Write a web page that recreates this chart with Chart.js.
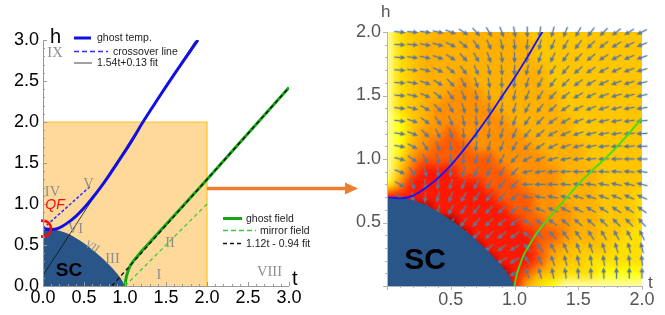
<!DOCTYPE html>
<html>
<head>
<meta charset="utf-8">
<script src="https://cdn.jsdelivr.net/npm/chart.js@4.4.1/dist/chart.umd.min.js"></script>
<style>
  html, body { margin: 0; padding: 0; background: #fff; width: 665px; height: 315px; overflow: hidden; }
  #left  { position: absolute; left: 0;     top: 0; z-index: 2; }
  #right { position: absolute; left: 330px; top: 0; z-index: 1; }
</style>
</head>
<body>
<canvas id="left" width="365" height="315"></canvas>
<canvas id="right" width="335" height="315"></canvas>
<script>
// ── data ─────────────────────────────────────────────────────────────────────

// superconducting dome boundary
const scT = [0, 0.1, 0.2, 0.3, 0.4, 0.5, 0.6, 0.7, 0.8, 0.9, 0.95, 1.0];
const scH = [0.7, 0.695, 0.675, 0.64, 0.585, 0.52, 0.445, 0.36, 0.265, 0.155, 0.09, 0];

// ghost temperature line
const ghostTempT = [0, 0.1, 0.2, 0.3, 0.4, 0.5, 0.6, 0.7, 0.8, 0.9, 1.0, 1.1, 1.2, 1.4, 1.6, 1.89];
const ghostTempH = [0.7, 0.69, 0.71, 0.77, 0.85, 0.95, 1.07, 1.2, 1.34, 1.49, 1.64, 1.8, 1.97, 2.28, 2.58, 3.0];

// crossover line and 1.54t+0.13 fit
const crossoverT = [0, 0.57];
const crossoverH = [0.7, 1.21];
const fitTempT = [0, 1.86];
const fitTempH = [0.13, 2.99];

// ghost field line (left panel / right panel), mirror field, 1.12t-0.94 fit
const ghostFieldT = [1.0, 1.01, 1.03, 1.06, 1.1, 1.15, 1.2, 1.3, 1.5, 2.0, 2.5, 3.0];
const ghostFieldH = [0, 0.08, 0.16, 0.24, 0.3, 0.36, 0.42, 0.53, 0.75, 1.3, 1.86, 2.42];
const ghostFieldRT = [1.0, 1.01, 1.04, 1.07, 1.11, 1.17, 1.24, 1.37, 1.5, 1.63, 1.75, 2.0, 2.05];
const ghostFieldRH = [0, 0.06, 0.16, 0.24, 0.31, 0.41, 0.5, 0.65, 0.8, 0.93, 1.04, 1.32, 1.38];
const mirrorT = [1, 2];
const mirrorH = [0, 1];
const fitFieldT = [0.84, 3.0];
const fitFieldH = [0, 2.42];

// zoomed window shown on the right
const zoomT = [0, 2, 2];
const zoomH = [2, 2, 0];

// quantum-fluctuation marker
const qfT = [0];
const qfH = [0.7];

// region labels (left panel)
const regionText = ['IX', 'IV', 'V', 'VI', 'III', 'II', 'I', 'VIII'];
const regionT = [0.146, 0.116, 0.555, 0.396, 0.848, 1.549, 1.415, 2.762];
const regionH = [2.84, 1.14, 1.244, 0.689, 0.323, 0.524, 0.134, 0.165];

// flow field: grid columns (t), rows (h, top to bottom), direction in degrees
const fieldT = [0.1, 0.2, 0.3, 0.4, 0.5, 0.6, 0.7, 0.8, 0.9, 1.0, 1.1, 1.2, 1.3, 1.4, 1.5, 1.6, 1.7, 1.8, 1.9, 2.0];
const fieldH = [2.0, 1.9, 1.8, 1.7, 1.6, 1.5, 1.4, 1.3, 1.2, 1.1, 1.0, 0.9, 0.8, 0.7, 0.6, 0.5, 0.4, 0.3, 0.2, 0.1];
const fieldAngle = [
  [-5, -5, -8, -12, -20, -33, -48, -60, -70, -80, -90, -97, -105, -112, -120, -128, -135, -142, -148, -153],
  [-3, -6, -10, -16, -26, -40, -55, -66, -76, -85, -95, -103, -112, -120, -128, -135, -142, -148, -153, -158],
  [-3, -7, -12, -20, -32, -47, -60, -71, -81, -89, -99, -108, -117, -125, -133, -140, -147, -152, -157, -161],
  [-4, -8, -15, -25, -40, -54, -66, -76, -85, -93, -103, -113, -122, -130, -138, -145, -151, -156, -160, -164],
  [-4, -10, -19, -31, -47, -61, -72, -81, -89, -97, -108, -118, -127, -135, -143, -150, -155, -159, -163, -166],
  [-5, -12, -24, -39, -55, -67, -77, -85, -93, -101, -113, -123, -132, -140, -148, -154, -159, -163, -166, -168],
  [-6, -15, -30, -47, -62, -73, -82, -89, -97, -105, -118, -128, -138, -146, -153, -158, -163, -166, -169, -171],
  [-7, -18, -37, -56, -69, -79, -87, -94, -101, -109, -123, -134, -144, -151, -157, -162, -166, -169, -172, -174],
  [-8, -22, -45, -64, -76, -85, -92, -99, -106, -114, -128, -140, -150, -156, -161, -166, -169, -172, -175, -177],
  [-10, -28, -55, -71, -82, -90, -97, -104, -111, -119, -134, -146, -155, -161, -166, -170, -173, -175, -177, -179],
  [-15, -35, -62, -77, -87, -95, -103, -110, -117, -135, -150, -156, -163, -168, -172, -175, -178, 180, 180, 180],
  [-20, -50, -72, -86, -96, -104, -112, -118, -124, -132, -165, -170, -175, -178, 179, 177, 176, 175, 174, 173],
  [-30, -65, -82, -95, -105, -112, -118, -124, -128, -135, -178, 180, 177, 175, 173, 171, 170, 168, 167, 166],
  [-40, -80, -95, -105, -112, -118, -124, -128, -132, -138, 170, 170, 168, 166, 164, 162, 160, 158, 157, 156],
  [-90, -100, -105, -112, -118, -124, -128, -132, -136, -140, 160, 158, 156, 154, 152, 150, 148, 147, 146, 145],
  [-110, -115, -120, -125, -128, -128, -132, -136, -140, -143, 150, 147, 144, 141, 139, 137, 135, 134, 133, 132],
  [-120, -125, -128, -130, -132, -134, -135, -138, -142, -145, 140, 136, 132, 128, 125, 122, 120, 118, 117, 116],
  [-125, -130, -132, -134, -136, -138, -140, -140, -145, -148, 130, 125, 120, 115, 112, 110, 108, 106, 105, 104],
  [-130, -132, -134, -136, -138, -140, -142, -145, -148, -150, 120, 115, 110, 106, 103, 100, 98, 97, 96, 95],
  [-130, -132, -134, -136, -138, -140, -142, -145, -148, -150, 110, 105, 100, 97, 95, 93, 92, 91, 90, 90],
];

// density background: rows h = 2.0 .. 0.0, columns t = 0.0 .. 2.0 (step 0.1), level 0-9
const heatRows = [
  '134455555554444444444',
  '134555555555444444444',
  '134555555555444444444',
  '134555555555544444444',
  '134555655555544444444',
  '134556665555554444444',
  '134566666555554444444',
  '124566666655555444444',
  '124667666665555444444',
  '125677766666555544444',
  '136777777666655544444',
  '147888777766665554444',
  '268888887776665554444',
  '888888888777665554443',
  '999988888877666554443',
  '999999888887766554443',
  '999999988888776554433',
  '999999998888765444333',
  '999999999888754433333',
  '999999999987543332222',
  '999999999985321111111',
];
const heatColors = ['#ffffff', '#ffffa8', '#ffff10', '#ffe000', '#ffc600', '#ffb000',
                    '#ff9000', '#ff5a00', '#ff1800', '#900000'];

// ── shared helpers ───────────────────────────────────────────────────────────

const FONT = "'Liberation Sans', Arial, sans-serif";
const SERIF = "'Liberation Serif', 'Times New Roman', serif";
Chart.defaults.font.family = FONT;

const pts = (ts, hs) => ts.map((t, i) => ({ x: t, y: hs[i] }));

function lineSet(ts, hs, color, width, extra) {
  return Object.assign({
    data: pts(ts, hs), showLine: true, borderColor: color, borderWidth: width,
    pointRadius: 0, fill: false, cubicInterpolationMode: 'monotone',
  }, extra || {});
}

// inward/outward tick marks + axis lines
const frameAxes = {
  id: 'frameAxes',
  afterDatasetsDraw(chart, args, o) {
    const { ctx, chartArea: a, scales: { x, y } } = chart;
    const dir = o.inward ? 1 : -1;
    ctx.save();
    ctx.strokeStyle = o.color;
    ctx.lineWidth = 1;
    ctx.beginPath();
    ctx.moveTo(a.left + 0.5, a.top);
    ctx.lineTo(a.left + 0.5, a.bottom + 0.5);
    ctx.lineTo(a.right, a.bottom + 0.5);
    const isMajor = v => Math.abs(v / o.major - Math.round(v / o.major)) < 1e-6;
    for (let i = 0; i <= Math.round(x.max / o.minor); i++) {
      const v = i * o.minor;
      const px = Math.round(x.getPixelForValue(v)) + 0.5;
      ctx.moveTo(px, a.bottom);
      ctx.lineTo(px, a.bottom - dir * (isMajor(v) ? o.majorLen : o.minorLen));
    }
    for (let i = 0; i <= Math.round(y.max / o.minor); i++) {
      const v = i * o.minor;
      const py = Math.round(y.getPixelForValue(v)) + 0.5;
      ctx.moveTo(a.left, py);
      ctx.lineTo(a.left + dir * (isMajor(v) ? o.majorLen : o.minorLen), py);
    }
    ctx.stroke();
    ctx.restore();
  }
};

// free text + hand-placed legend rows
const decor = {
  id: 'decor',
  afterDraw(chart, args, o) {
    const { ctx, scales: { x, y } } = chart;
    ctx.save();
    (o.texts || []).forEach(d => {
      const px = d.px != null ? d.px : x.getPixelForValue(d.t);
      const py = d.py != null ? d.py : y.getPixelForValue(d.h);
      ctx.save();
      ctx.translate(px, py);
      if (d.rot) ctx.rotate(d.rot * Math.PI / 180);
      ctx.font = d.font;
      ctx.fillStyle = d.color;
      ctx.textAlign = d.align || 'center';
      ctx.textBaseline = d.base || 'middle';
      ctx.fillText(d.text, 0, 0);
      ctx.restore();
    });
    (o.legend || []).forEach(r => {
      ctx.beginPath();
      ctx.strokeStyle = r.color;
      ctx.lineWidth = r.width;
      ctx.setLineDash(r.dash || []);
      ctx.moveTo(r.x0, r.y);
      ctx.lineTo(r.x1, r.y);
      ctx.stroke();
      ctx.setLineDash([]);
      ctx.font = `10.5px ${FONT}`;
      ctx.fillStyle = '#222';
      ctx.textAlign = 'left';
      ctx.textBaseline = 'middle';
      ctx.fillText(r.label, r.tx, r.y + 0.5);
    });
    ctx.restore();
  }
};

// orange arrow pointing from the zoom window to the right panel
const bigArrow = {
  id: 'bigArrow',
  afterDraw(chart, args, o) {
    const { ctx, scales: { x, y } } = chart;
    const x0 = x.getPixelForValue(o.from[0]);
    const yy = Math.round(y.getPixelForValue(o.from[1])) + 0.5;
    ctx.save();
    ctx.strokeStyle = ctx.fillStyle = o.color;
    ctx.lineWidth = 3.5;
    ctx.beginPath();
    ctx.moveTo(x0, yy);
    ctx.lineTo(o.tipX - 10, yy);
    ctx.stroke();
    ctx.beginPath();
    ctx.moveTo(o.tipX, yy);
    ctx.lineTo(o.tipX - 13, yy - 6);
    ctx.lineTo(o.tipX - 13, yy + 6);
    ctx.closePath();
    ctx.fill();
    ctx.restore();
  }
};

// density background painted through the scales
const heatmap = {
  id: 'heatmap',
  beforeDatasetsDraw(chart) {
    const { ctx, chartArea: a, scales: { x, y } } = chart;
    const cols = heatRows[0].length, rows = heatRows.length;
    const img = document.createElement('canvas');
    img.width = cols; img.height = rows;
    const g = img.getContext('2d');
    heatRows.forEach((row, j) => [...row].forEach((ch, i) => {
      g.fillStyle = heatColors[+ch];
      g.fillRect(i, j, 1, 1);
    }));
    const half = 0.05;
    const x0 = x.getPixelForValue(-half), x1 = x.getPixelForValue(2 + half);
    const y0 = y.getPixelForValue(2 + half), y1 = y.getPixelForValue(-half);
    ctx.save();
    ctx.beginPath();
    ctx.rect(a.left, a.top, a.right - a.left, a.bottom - a.top);
    ctx.clip();
    ctx.imageSmoothingEnabled = true;
    ctx.imageSmoothingQuality = 'high';
    ctx.drawImage(img, x0, y0, x1 - x0, y1 - y0);
    ctx.restore();
  }
};

function arrowGlyph() {
  const c = document.createElement('canvas');
  c.width = 12; c.height = 7;
  const g = c.getContext('2d');
  g.strokeStyle = g.fillStyle = '#5d7899';
  g.lineWidth = 1.4;
  g.beginPath(); g.moveTo(0.5, 3.5); g.lineTo(8, 3.5); g.stroke();
  g.beginPath(); g.moveTo(12, 3.5); g.lineTo(6.8, 1); g.lineTo(6.8, 6); g.closePath(); g.fill();
  return c;
}

// ── left panel: phase diagram ───────────────────────────────────────────────

const SC_BLUE = '#2a5589';

new Chart(document.getElementById('left'), {
  type: 'scatter',
  data: {
    datasets: [
      lineSet(fitFieldT, fitFieldH, '#111', 1.4, { borderDash: [4, 3], order: 0 }),
      lineSet(qfT, qfH, '#f01010', 0, {
        showLine: false, pointRadius: 8, pointBorderWidth: 2.6, pointBorderColor: '#f01010',
        pointBackgroundColor: 'rgba(0,0,0,0)', order: 0, clip: { left: 2, top: false, right: false, bottom: false },
      }),
      lineSet(crossoverT, crossoverH, '#2f2fff', 1.5, { borderDash: [3, 2], order: 1 }),
      lineSet(ghostTempT, ghostTempH, '#1010e6', 3, { order: 2 }),
      lineSet(ghostFieldT, ghostFieldH, '#12a812', 3, { order: 2 }),
      lineSet(fitTempT, fitTempH, '#111', 0.8, { order: 3 }),
      lineSet(mirrorT, mirrorH, '#3ccc3c', 1.3, { borderDash: [4, 3], order: 3 }),
      lineSet(scT, scH, SC_BLUE, 0, { fill: 'origin', backgroundColor: SC_BLUE, order: 8 }),
      lineSet(zoomT, zoomH, '#ffc21a', 1.2, {
        fill: 'origin', backgroundColor: '#fed99a', cubicInterpolationMode: 'default', order: 9,
      }),
    ]
  },
  options: {
    responsive: false,
    animation: false,
    events: [],
    layout: { padding: { left: 0, top: 40, right: 76, bottom: 0 } },
    plugins: {
      legend: { display: false },
      tooltip: { enabled: false },
      frameAxes: { inward: true, color: '#9a9a9a', major: 0.5, minor: 0.1, majorLen: 4, minorLen: 2 },
      bigArrow: { from: [2.0, 1.2], tipX: 358, color: '#ed7d31' },
      decor: {
        texts: [
          ...regionText.map((s, i) => ({ text: s, t: regionT[i], h: regionH[i], font: `14.5px ${SERIF}`, color: '#8e8e8e' })),
          { text: 'VII', t: 0.598, h: 0.476, rot: 25, font: `italic 11px ${SERIF}`, color: '#8e8e8e' },
          { text: 'QF', t: 0.146, h: 0.988, font: `italic 14px ${FONT}`, color: '#f01010' },
          { text: 'SC', t: 0.317, h: 0.183, font: `bold 19px ${FONT}`, color: '#000' },
          { text: 'h', px: 50, py: 43, align: 'left', base: 'alphabetic', font: `20px ${FONT}`, color: '#000' },
          { text: 't', px: 292, py: 285, align: 'left', base: 'alphabetic', font: `20px ${FONT}`, color: '#000' },
        ],
        legend: [
          { label: 'ghost temp.', color: '#1010e6', width: 3, x0: 74, x1: 91, tx: 97, y: 38 },
          { label: 'crossover line', color: '#2f2fff', width: 1.3, dash: [5, 3], x0: 74, x1: 108, tx: 113, y: 51.5 },
          { label: '1.54t+0.13 fit', color: '#444', width: 1, x0: 74, x1: 92, tx: 97, y: 63 },
          { label: 'ghost field', color: '#12a812', width: 3, x0: 223, x1: 242, tx: 246, y: 218.5 },
          { label: 'mirror field', color: '#3ccc3c', width: 1.3, dash: [5, 3], x0: 223, x1: 256, tx: 260, y: 230.5 },
          { label: '1.12t - 0.94 fit', color: '#111', width: 1.3, dash: [4, 3], x0: 223, x1: 242, tx: 246, y: 243.5 },
        ],
      },
    },
    scales: {
      x: {
        type: 'linear', min: 0, max: 3,
        grid: { display: false, drawTicks: false },
        border: { display: false },
        ticks: { stepSize: 0.5, autoSkip: false, maxRotation: 0, padding: 1, color: '#000',
                 font: { size: 18 }, callback: v => v.toFixed(1) },
        afterFit: s => { s.height = 29; },
      },
      y: {
        type: 'linear', min: 0, max: 3,
        grid: { display: false, drawTicks: false },
        border: { display: false },
        ticks: { stepSize: 0.5, autoSkip: false, padding: 4, color: '#000',
                 font: { size: 18 }, callback: v => v.toFixed(1) },
        afterFit: s => { s.width = 43; },
      },
    },
  },
  plugins: [frameAxes, bigArrow, decor],
});

// ── right panel: flow field ─────────────────────────────────────────────────

const fieldPoints = [];
fieldH.forEach((h, j) => fieldT.forEach((t, i) => fieldPoints.push({ x: t, y: h, a: fieldAngle[j][i] })));
const arrowImg = arrowGlyph();

new Chart(document.getElementById('right'), {
  type: 'scatter',
  data: {
    datasets: [
      lineSet(ghostTempT, ghostTempH, '#1414ff', 1.8, { order: 1 }),
      lineSet(ghostFieldRT, ghostFieldRH, '#3ae01e', 1.8, { order: 1 }),
      lineSet(scT, scH, SC_BLUE, 0, { fill: 'origin', backgroundColor: SC_BLUE, order: 5 }),
      {
        data: fieldPoints, showLine: false, pointStyle: arrowImg, pointRadius: 6,
        rotation: c => -(c.raw ? c.raw.a : 0), clip: false, order: 6,
      },
    ]
  },
  options: {
    responsive: false,
    animation: false,
    events: [],
    layout: { padding: { left: 0, top: 32, right: 23, bottom: 0 } },
    plugins: {
      legend: { display: false },
      tooltip: { enabled: false },
      frameAxes: { inward: false, color: '#b4b4b4', major: 0.5, minor: 0.1, majorLen: 4, minorLen: 2 },
      decor: {
        texts: [
          { text: 'SC', t: 0.298, h: 0.197, font: `bold 30px ${FONT}`, color: '#000' },
          { text: 'h', px: 51, py: 17, align: 'left', base: 'alphabetic', font: `17px ${FONT}`, color: '#555' },
          { text: 't', px: 318, py: 288, align: 'left', base: 'alphabetic', font: `17px ${FONT}`, color: '#555' },
        ],
      },
    },
    scales: {
      x: {
        type: 'linear', min: 0, max: 2,
        grid: { display: false, drawTicks: false },
        border: { display: false },
        ticks: { stepSize: 0.5, autoSkip: false, maxRotation: 0, padding: 3, color: '#555',
                 font: { size: 18 }, callback: v => (v === 0 ? '' : v.toFixed(1)) },
        afterFit: s => { s.height = 29; },
      },
      y: {
        type: 'linear', min: 0, max: 2,
        grid: { display: false, drawTicks: false },
        border: { display: false },
        ticks: { stepSize: 0.5, autoSkip: false, padding: 6, color: '#555',
                 font: { size: 18 }, callback: v => (v === 0 ? '' : v.toFixed(1)) },
        afterFit: s => { s.width = 57; },
      },
    },
  },
  plugins: [heatmap, frameAxes, decor],
});
</script>
</body>
</html>
